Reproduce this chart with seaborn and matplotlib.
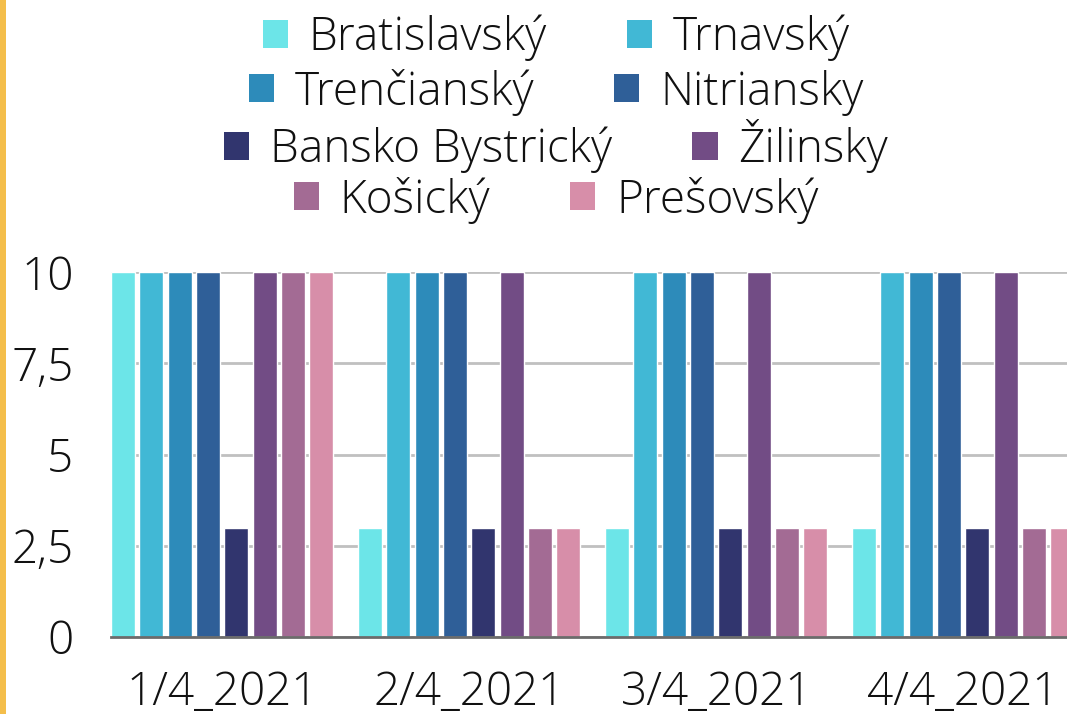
import matplotlib
matplotlib.use('Agg')
import matplotlib.pyplot as plt
from matplotlib.patches import Patch, Rectangle
import seaborn as sns
import pandas as pd

# data
dates = ['1/4_2021', '2/4_2021', '3/4_2021', '4/4_2021']
regions = ['Bratislavský', 'Trnavský', 'Trenčianský', 'Nitriansky',
           'Bansko Bystrický', 'Žilinsky', 'Košický', 'Prešovský']
values = {
    'Bratislavský':     [10, 3, 3, 3],
    'Trnavský':         [10, 10, 10, 10],
    'Trenčianský':      [10, 10, 10, 10],
    'Nitriansky':       [10, 10, 10, 10],
    'Bansko Bystrický': [3, 3, 3, 3],
    'Žilinsky':         [10, 10, 10, 10],
    'Košický':          [10, 3, 3, 3],
    'Prešovský':        [10, 3, 3, 3],
}
colors = ['#6CE5E8', '#41B8D5', '#2D8BBA', '#2F5F98',
          '#31356E', '#724C85', '#A36B94', '#D78EA9']

rows = []
for r in regions:
    for d, v in zip(dates, values[r]):
        rows.append({'date': d, 'region': r, 'value': v})
df = pd.DataFrame(rows)

sns.set_style('white')
plt.rcParams['font.family'] = ['Open Sans', 'DejaVu Sans']

W, H = 1067, 714
fig = plt.figure(figsize=(W / 100, H / 100), dpi=100)
ax = fig.add_axes([111 / W, (H - 637) / H, (W - 111) / W, 365 / H])

sns.barplot(data=df, x='date', y='value', hue='region', order=dates,
            hue_order=regions, palette=colors, width=0.917, gap=0.15,
            saturation=1, legend=False, ax=ax, zorder=3)

ax.set_xlim(-0.450, 3.420)
ax.set_ylim(0, 10)
ax.set_yticks([0, 2.5, 5, 7.5, 10])
ax.set_yticklabels(['0', '2,5', '5', '7,5', '10'])
ax.set_xlabel('')
ax.set_ylabel('')
ax.grid(axis='y', color='#c0c0c0', linewidth=2, zorder=0)
ax.grid(axis='x', visible=False)
for s in ['top', 'right', 'left']:
    ax.spines[s].set_visible(False)
ax.spines['bottom'].set_color('#6b6b6b')
ax.spines['bottom'].set_linewidth(2)
ax.spines['bottom'].set_zorder(4)
ax.tick_params(axis='y', length=0, pad=27, labelsize=33, colors='#111111')
ax.tick_params(axis='x', length=0, pad=24, labelsize=33, colors='#111111')
for t in ax.get_xticklabels() + ax.get_yticklabels():
    t.set_fontweight('light')

# legend: one centered row per pair
handles = [Patch(facecolor=c, edgecolor='none') for c in colors]
row_y = [38, 92, 146, 200]
for i, y in enumerate(row_y):
    leg = fig.legend(handles[2 * i:2 * i + 2], regions[2 * i:2 * i + 2],
                     ncol=2, loc='center', bbox_to_anchor=(556 / W, 1 - y / H),
                     frameon=False, handlelength=0.55, handleheight=0.55,
                     handletextpad=0.45, columnspacing=1.75, borderpad=0,
                     prop={'size': 33, 'weight': 'light'})
    for t in leg.get_texts():
        t.set_color('#111111')

# orange strip on the left edge
fig.patches.append(Rectangle((0, 0), 6 / W, 1, transform=fig.transFigure,
                             facecolor='#F4BE4B', edgecolor='none'))

fig.savefig('out.png', dpi=100)
